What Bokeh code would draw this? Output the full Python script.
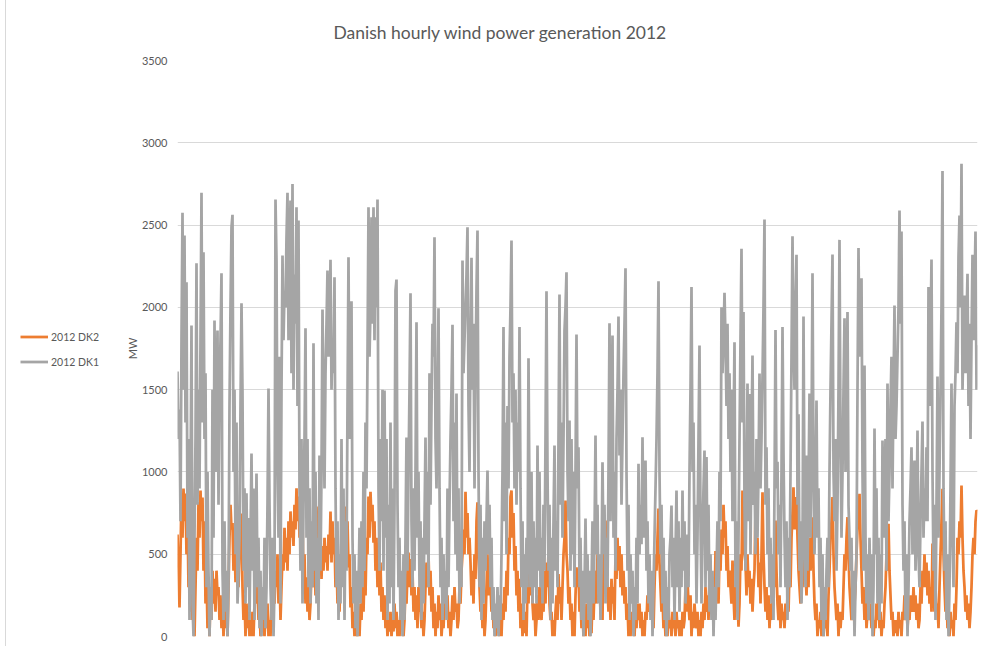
import numpy as np
from bokeh.plotting import figure
from bokeh.layouts import row
from bokeh.models import Range1d, FixedTicker, Legend, LegendItem, Title
from bokeh.embed import file_html
from bokeh.resources import INLINE

title_text = "Danish hourly wind  power generation 2012"
series_names = ["2012 DK2", "2012 DK1"]
y_axis_label = "MW"
y_ticks = [0, 500, 1000, 1500, 2000, 2500, 3000, 3500]
hours_in_year = 8784

# DK1 (MW), one reading for every ~11 hours of 2012
dk1_mw = [
    1610,1200,1380,700,1800,2575,1500,2436,1300,2153,
    600,1200,100,900,1890,200,0,600,1200,2268,
    800,1500,900,1800,2696,1300,2335,1200,1600,300,
    1000,400,0,300,100,1500,600,1920,1000,1400,
    1859,800,1500,1800,2207,400,100,700,150,400,
    0,300,1400,2000,2487,2562,1000,1500,500,1300,
    200,400,600,1400,2025,1476,400,900,200,870,
    300,720,100,600,1112,400,900,100,500,990,
    300,600,50,400,0,300,100,600,50,300,
    800,1507,800,300,100,600,0,300,2655,2285,
    1000,600,1700,200,1500,2315,1800,2100,2000,2426,
    2696,1800,2200,2649,1600,2750,1500,2200,1900,2608,
    1400,2528,900,400,1200,200,800,1200,1873,600,
    1200,300,900,200,700,300,1782,400,1000,200,
    600,100,1100,400,1000,1987,1400,900,1600,1900,
    2224,1700,1800,2289,1500,1800,1600,2183,900,300,
    700,100,500,200,1200,300,900,100,700,400,
    1400,2305,1200,1600,2037,600,200,500,50,400,
    0,300,660,200,700,300,1000,400,1300,900,
    1700,2608,1700,2000,2548,1900,2608,1800,2548,2000,
    2655,900,400,1200,700,1500,400,1495,600,1200,
    100,800,200,1300,300,900,100,800,2102,2169,
    800,300,600,100,400,0,500,100,600,1209,
    400,1000,1500,2086,700,300,900,400,1000,1910,
    600,1000,300,700,100,600,200,700,1209,500,
    1000,300,1600,800,1400,1900,1700,2426,1200,900,
    1400,1995,900,300,600,100,500,200,400,100,
    900,300,800,1200,1500,1894,700,1300,500,1476,
    400,900,200,600,300,2285,1600,1800,2000,2200,
    2487,1400,1000,1800,2301,1500,1900,900,1600,2112,
    2467,1000,300,800,100,600,200,700,400,700,
    1008,500,800,300,600,100,300,0,200,50,
    300,0,250,100,500,1000,1880,700,1300,500,
    1400,900,1700,2000,2406,1300,1600,900,1500,800,
    1300,1000,1880,900,300,700,100,500,200,600,
    300,1690,800,300,1000,200,700,300,600,200,
    1160,400,1000,300,600,200,800,400,1200,2098,
    1000,400,800,100,600,200,700,1160,400,700,
    300,1200,2078,800,1300,600,1200,1859,2000,2213,
    1000,700,1312,400,1200,500,1000,300,1000,1835,
    900,1150,300,600,100,400,0,300,717,200,
    500,100,400,0,300,700,200,600,1221,500,
    800,200,500,100,400,1059,500,800,200,600,
    300,1000,1904,700,1200,1829,600,1000,400,1200,
    1500,1944,1100,1500,800,1200,1600,1900,2238,1000,
    400,800,100,500,200,400,0,300,100,600,
    200,1050,500,800,560,1211,600,900,1069,400,
    700,200,500,100,400,0,300,600,900,1200,
    1600,2159,1000,500,800,200,600,100,400,0,
    300,100,500,600,796,300,600,100,500,887,
    300,700,150,600,300,887,400,700,200,400,
    620,300,1000,1500,2123,1000,1300,500,800,200,
    600,1200,1768,700,200,600,900,1130,300,1090,
    400,800,150,500,100,400,0,300,100,400,
    700,300,1000,700,2001,1600,1800,2088,1800,1400,
    1900,1200,1600,1000,1500,700,1200,1788,300,700,
    100,600,1200,1800,2356,1300,1971,800,400,900,
    1537,700,1474,500,1200,1707,800,1000,500,1200,
    600,1000,1598,900,1200,1576,2000,2534,800,1150,
    500,900,300,600,200,500,100,900,1863,900,
    1061,500,800,300,1000,1880,1100,600,300,700,
    100,600,300,1000,1700,2432,1800,1500,2000,2319,
    800,1350,400,700,200,500,1944,800,300,1100,
    400,900,1476,600,1200,2207,1000,500,900,1434,
    600,900,300,600,100,500,0,300,100,400,
    600,300,1000,1500,1900,2321,1000,700,1200,400,
    800,1500,2410,1200,600,1000,1500,1934,1000,1400,
    1971,800,600,400,600,100,400,0,300,500,
    1500,2360,1700,1900,2177,1000,400,1646,600,200,
    500,100,600,200,500,0,300,1264,500,900,
    200,600,100,500,200,1191,600,900,1200,400,
    1537,700,1000,1400,1700,900,1500,2011,1200,1400,
    1700,2000,2588,1900,2461,800,400,700,100,500,
    0,300,700,900,1150,500,900,1069,400,700,
    1251,500,300,700,1000,1306,600,900,700,1150,
    700,2123,1400,1800,2291,1000,400,800,100,800,
    1580,600,1000,1500,2000,2828,900,400,700,100,
    500,0,300,900,1537,600,300,1400,1600,1910,
    1600,2305,2558,2000,2872,1500,1800,2072,1600,1900,
    2204,1400,1900,1200,1800,2319,1800,2100,2461,1500,
    1770,
]

# DK2 (MW), same sampling
dk2_mw = [
    620,400,176,500,860,600,899,700,869,500,
    750,300,500,150,360,100,250,0,300,600,
    400,816,600,887,700,845,400,700,200,400,
    50,200,0,300,100,400,200,350,150,400,
    250,300,100,250,50,200,0,150,50,200,
    0,300,600,800,650,690,400,600,330,500,
    640,300,500,600,747,300,100,250,0,200,
    50,150,0,100,0,150,0,200,400,200,
    300,100,200,0,150,50,100,0,150,50,
    200,0,100,0,200,100,300,200,400,300,
    500,200,400,100,300,500,400,660,450,600,
    400,700,500,760,600,700,550,800,650,900,
    700,850,600,870,500,700,300,500,200,360,
    150,300,100,200,400,570,300,500,250,700,
    500,790,450,600,350,550,400,600,450,550,
    400,620,500,760,450,700,500,600,300,500,
    200,450,150,350,600,400,700,500,790,550,
    700,420,500,176,300,50,150,0,100,0,
    50,150,0,200,100,300,150,400,250,600,
    500,850,600,880,700,800,570,700,400,600,
    300,550,250,450,150,300,100,250,50,150,
    0,100,30,150,0,100,30,200,50,150,
    0,100,0,150,50,200,0,100,300,200,
    400,510,300,470,250,400,150,300,100,250,
    50,300,150,200,50,150,0,100,300,450,
    300,500,250,400,150,300,50,200,0,150,
    50,250,100,200,0,100,50,200,300,150,
    250,50,150,0,100,250,100,300,150,200,
    50,100,300,200,400,500,650,500,880,600,
    750,500,600,450,250,400,200,500,350,700,
    816,500,300,150,250,50,200,0,100,300,
    500,250,400,320,150,250,50,150,0,100,
    20,150,0,100,0,200,100,300,150,400,
    250,600,500,850,887,600,750,400,550,250,
    400,150,350,50,200,0,100,20,150,0,
    300,200,450,250,500,200,100,200,0,100,
    250,100,300,200,100,250,150,400,200,450,
    300,520,200,100,150,0,100,0,150,250,
    100,380,200,300,100,300,500,600,826,500,
    400,200,300,100,200,0,150,0,250,420,
    300,400,150,250,50,150,0,100,0,200,
    50,150,0,100,20,250,100,300,400,200,
    500,300,350,150,300,100,650,500,705,400,
    300,150,300,100,350,200,300,100,500,350,
    600,400,550,300,500,250,400,200,300,100,
    200,0,100,0,150,50,100,0,150,50,
    200,100,200,50,150,0,100,0,150,100,
    250,200,150,300,100,200,50,300,500,400,
    600,778,450,300,150,250,50,150,0,100,
    0,200,50,100,0,150,50,100,0,150,
    50,100,0,100,0,150,50,100,300,150,
    350,200,100,250,0,150,50,200,100,50,
    150,0,100,0,150,50,200,100,300,150,
    250,100,350,200,300,100,250,150,520,300,
    400,200,500,400,650,500,800,600,700,400,
    550,300,400,300,200,462,250,100,300,150,
    250,60,200,500,400,887,600,500,450,250,
    500,300,400,200,350,150,300,400,766,500,
    600,300,450,200,500,876,500,300,150,300,
    100,250,50,200,100,250,400,300,705,400,
    200,100,250,50,200,100,150,50,200,100,
    250,150,400,300,600,750,907,650,750,847,
    600,400,300,200,450,300,500,705,400,250,
    450,300,600,400,500,725,400,200,100,200,
    0,100,50,150,0,100,0,150,50,100,
    0,250,400,600,700,847,500,300,200,100,
    200,0,150,50,150,100,300,500,400,600,
    725,500,300,200,100,250,100,200,300,500,
    650,750,867,600,400,200,300,100,250,50,
    150,300,100,200,50,150,0,100,50,200,
    100,250,50,150,0,100,50,200,300,500,
    400,685,400,250,100,150,0,100,20,100,
    0,150,50,100,0,150,100,250,100,200,
    50,150,100,250,200,150,300,150,250,100,
    200,50,100,300,200,400,300,500,300,450,
    250,400,200,300,150,565,300,150,300,150,
    200,50,300,500,700,897,500,300,150,250,
    50,100,0,150,50,100,0,200,100,300,
    600,500,700,600,917,600,400,300,150,250,
    100,200,50,150,300,500,600,500,700,766,
    760,
]

hours_dk1 = np.linspace(0, hours_in_year, len(dk1_mw))
hours_dk2 = np.linspace(0, hours_in_year, len(dk2_mw))

FONT = "Lato"
TEXT = "#595959"
ORANGE = "#ED7D31"
GREY = "#A5A5A5"
LW = 2.75

# ---- main chart ----
p = figure(width=863, height=646, output_backend="svg", toolbar_location=None,
           x_range=Range1d(0, hours_in_year), y_range=Range1d(0, 3500),
           x_axis_location=None,
           min_border_left=60, min_border_right=3, min_border_top=60, min_border_bottom=10)
p.outline_line_color = None
p.xgrid.visible = False
p.ygrid.ticker = FixedTicker(ticks=y_ticks)
p.ygrid.grid_line_color = "#d9d9d9"
p.ygrid.grid_line_width = 1

ax = p.yaxis[0]
ax.ticker = FixedTicker(ticks=y_ticks)
ax.axis_line_color = None
ax.major_tick_line_color = None
ax.minor_tick_line_color = None
ax.major_tick_out = 0
ax.major_tick_in = 0
ax.major_label_standoff = 10
ax.major_label_text_font = FONT
ax.major_label_text_font_size = "11px"
ax.major_label_text_color = TEXT
ax.axis_label = y_axis_label
ax.axis_label_text_font = FONT
ax.axis_label_text_font_size = "11px"
ax.axis_label_text_font_style = "normal"
ax.axis_label_text_color = TEXT
ax.axis_label_standoff = 0

p.line(hours_dk2, dk2_mw, line_color=ORANGE, line_width=LW)
p.line(hours_dk1, dk1_mw, line_color=GREY, line_width=LW)

title = Title(text=title_text, align="left", offset=156, standoff=36,
              text_font=FONT, text_font_size="17.5px", text_font_style="normal",
              text_color=TEXT)
p.add_layout(title, "above")

# ---- legend strip on the left (legend-only proxies, no data drawn) ----
pl = figure(width=112, height=646, output_backend="svg", toolbar_location=None,
            x_range=Range1d(0, 1), y_range=Range1d(0, 1),
            x_axis_location=None, y_axis_location=None,
            min_border_left=0, min_border_right=0, min_border_top=0, min_border_bottom=0)
pl.outline_line_color = None
pl.grid.visible = False
pl.styles = {"margin-left": "5px", "border-left": "1px solid #d9d9d9"}
lg2 = pl.line([np.nan], [np.nan], line_color=ORANGE, line_width=LW)
lg1 = pl.line([np.nan], [np.nan], line_color=GREY, line_width=LW)

legend = Legend(items=[LegendItem(label=series_names[0], renderers=[lg2]),
                       LegendItem(label=series_names[1], renderers=[lg1])],
                location=(14, 262), orientation="vertical",
                glyph_width=28, glyph_height=25, label_height=25, spacing=0,
                padding=0, margin=0, label_standoff=3,
                label_text_font=FONT, label_text_font_size="10.5px", label_text_color=TEXT,
                border_line_color=None, background_fill_alpha=0)
pl.add_layout(legend)

layout = row(pl, p)
open("out.html", "w").write(file_html(layout, INLINE))
